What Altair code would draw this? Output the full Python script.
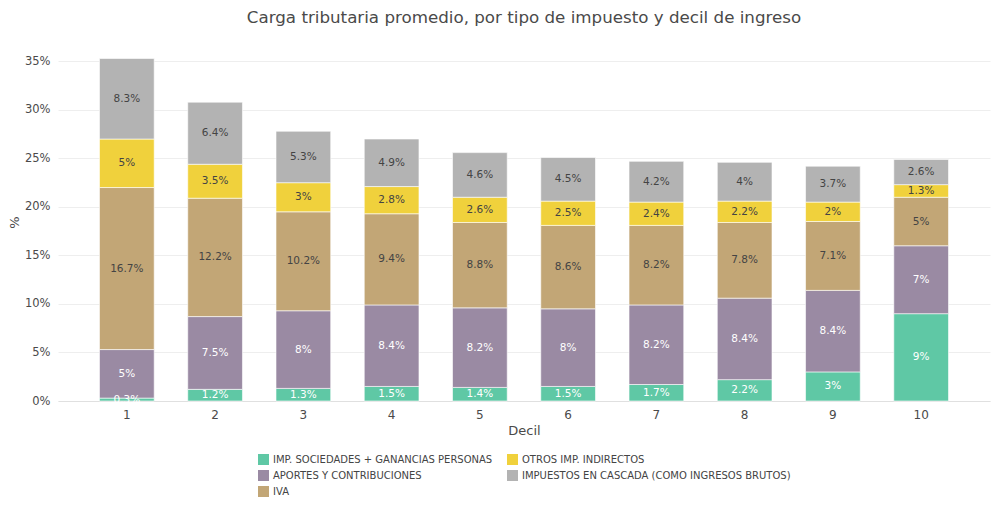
import altair as alt
import pandas as pd

deciles = [1, 2, 3, 4, 5, 6, 7, 8, 9, 10]
tipos = [
    "IMP. SOCIEDADES + GANANCIAS PERSONAS",
    "APORTES Y CONTRIBUCIONES",
    "IVA",
    "OTROS IMP. INDIRECTOS",
    "IMPUESTOS EN CASCADA (COMO INGRESOS BRUTOS)",
]
sociedades = [0.3, 1.2, 1.3, 1.5, 1.4, 1.5, 1.7, 2.2, 3.0, 9.0]
aportes = [5.0, 7.5, 8.0, 8.4, 8.2, 8.0, 8.2, 8.4, 8.4, 7.0]
iva = [16.7, 12.2, 10.2, 9.4, 8.8, 8.6, 8.2, 7.8, 7.1, 5.0]
otros = [5.0, 3.5, 3.0, 2.8, 2.6, 2.5, 2.4, 2.2, 2.0, 1.3]
cascada = [8.3, 6.4, 5.3, 4.9, 4.6, 4.5, 4.2, 4.0, 3.7, 2.6]
colores = ["#5fc8a5", "#9a8aa3", "#c2a676", "#f0d13c", "#b3b3b3"]
text_colores = ["#ffffff", "#ffffff", "#444444", "#444444", "#444444"]

series = [sociedades, aportes, iva, otros, cascada]
rows = []
for k, (t, vals) in enumerate(zip(tipos, series)):
    for d, v in zip(deciles, vals):
        rows.append({"decil": str(d), "tipo": t, "valor": v, "ord": k,
                     "label": f"{v:g}%", "tcol": text_colores[k]})
df = pd.DataFrame(rows)

FONT = "DejaVu Sans"

base = alt.Chart(df).transform_stack(
    stack="valor", as_=["y0", "y1"], groupby=["decil"], sort=[alt.SortField("ord")]
).transform_calculate(mid="(datum.y0 + datum.y1) / 2")

xenc = alt.X("decil:N", sort=[str(d) for d in deciles],
             scale=alt.Scale(paddingInner=0.38, paddingOuter=0.47),
             axis=alt.Axis(title="Decil", labelAngle=0, ticks=False, domain=True,
                           domainColor="#e0e0e0", labelFontSize=12, labelColor="#4a4a4a",
                           labelPadding=8, titleFontSize=13, titleColor="#4a4a4a",
                           titleFontWeight="normal", titlePadding=4, grid=False))

yscale = alt.Scale(domain=[0, 37], nice=False)

bars = base.mark_bar(stroke="white", strokeWidth=0.6).encode(
    x=xenc,
    y=alt.Y("y0:Q", scale=yscale,
            axis=alt.Axis(title="%", values=[0, 5, 10, 15, 20, 25, 30, 35],
                          labelExpr="datum.value + '%'", ticks=False, domain=False,
                          gridColor="#eeeeee", labelFontSize=11.5, labelColor="#4a4a4a",
                          labelPadding=8, titleFontSize=13, titleColor="#4a4a4a",
                          titleFontWeight="normal", titleX=-37, titleY=180,
                          titleAngle=-90)),
    y2="y1:Q",
    color=alt.Color("tipo:N", scale=alt.Scale(domain=tipos, range=colores),
                    legend=alt.Legend(title=None, orient="none", legendX=200, legendY=412,
                                      columns=2, columnPadding=14, rowPadding=5,
                                      symbolType="square", symbolSize=121,
                                      symbolStrokeWidth=0, labelFontSize=10,
                                      labelColor="#444", labelLimit=400, padding=0)),
    order=alt.Order("ord:Q"),
)

texts = base.mark_text(fontSize=10.5, font=FONT).encode(
    x=alt.X("decil:N", sort=[str(d) for d in deciles]),
    y=alt.Y("mid:Q", scale=yscale),
    text="label:N",
    color=alt.Color("tcol:N", scale=None),
)

chart = alt.layer(bars, texts).properties(
    width=932, height=359,
    title=alt.Title("Carga tributaria promedio, por tipo de impuesto y decil de ingreso",
                    anchor="middle", fontSize=16.7, fontWeight="normal", color="#4a4a4a",
                    font=FONT, offset=15),
    autosize=alt.AutoSizeParams(type="none"),
    padding={"left": 50, "top": 34, "right": 2, "bottom": 98},
).configure(font=FONT).configure_view(stroke=None)

chart.save("out.html", embed_options={"renderer": "svg", "actions": False})
